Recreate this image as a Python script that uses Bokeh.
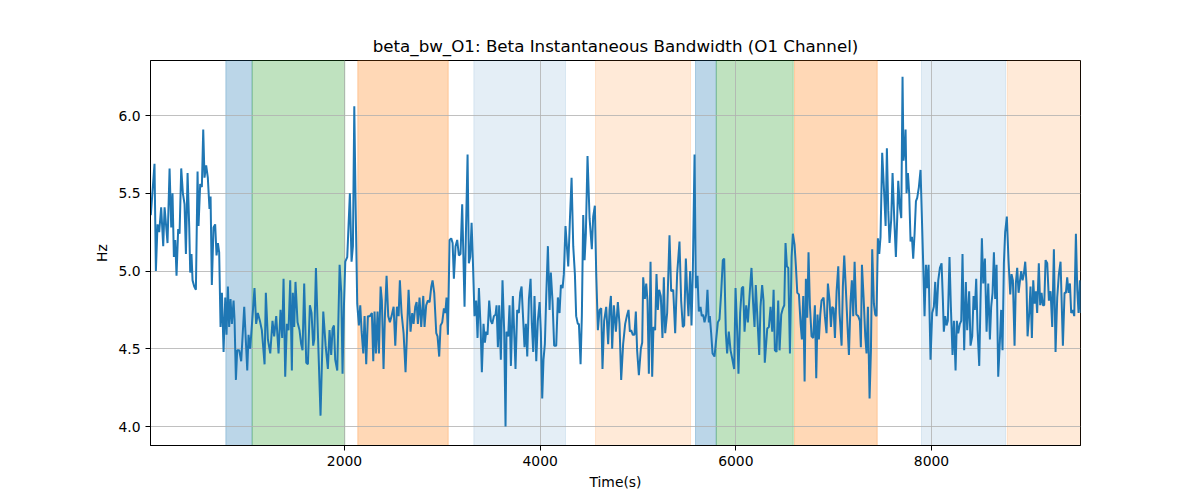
from bokeh.plotting import figure
from bokeh.models import Range1d, BoxAnnotation, FixedTicker, NumeralTickFormatter
from bokeh.embed import file_html
from bokeh.resources import INLINE

# beta bandwidth trace, rows of 10
time_s = [
    20, 58, 72, 89, 106, 126, 147, 161, 178, 191,
    212, 229, 242, 256, 270, 283, 300, 314, 331, 348,
    365, 379, 396, 413, 423, 436, 447, 464, 481, 498,
    508, 525, 542, 556, 569, 586, 603, 620, 631, 644,
    661, 678, 692, 706, 719, 733, 747, 764, 781, 794,
    808, 821, 835, 849, 866, 876, 890, 903, 924, 944,
    975, 1006, 1019, 1036, 1053, 1080, 1097, 1114, 1135, 1155,
    1183, 1196, 1217, 1241, 1264, 1281, 1302, 1326, 1346, 1363,
    1377, 1394, 1411, 1428, 1445, 1462, 1472, 1486, 1499, 1520,
    1540, 1557, 1571, 1588, 1609, 1626,
    1646, 1663, 1680, 1691, 1708, 1728, 1755, 1783, 1807, 1830,
    1847, 1864, 1878, 1892, 1905, 1926, 1950, 1967, 1980, 1994,
    2008, 2028, 2055, 2072, 2086, 2100, 2113, 2130, 2147, 2161,
    2175, 2192, 2205, 2222, 2239, 2260, 2280, 2294, 2307, 2321,
    2338, 2352, 2369, 2382, 2399, 2413, 2430, 2447, 2464, 2481,
    2502, 2519, 2536, 2553, 2566, 2583, 2604, 2624, 2641, 2655,
    2675, 2692, 2706, 2723, 2737, 2750, 2767, 2784, 2805, 2818,
    2835, 2852, 2870, 2887, 2900, 2917, 2938, 2951, 2968, 2982,
    2999, 3016, 3030, 3043, 3057, 3074, 3091, 3105, 3118, 3135,
    3152, 3169, 3186, 3203, 3227, 3241, 3258, 3271, 3285, 3299,
    3312, 3329, 3346, 3360, 3374, 3391, 3404, 3421, 3435, 3448,
    3462, 3479, 3496, 3510, 3527, 3544, 3554, 3568, 3581, 3598,
    3615, 3632, 3646, 3656, 3673, 3687, 3701, 3721, 3748, 3765,
    3782, 3796, 3810, 3823, 3840, 3854, 3868, 3885, 3902, 3915,
    3929, 3942, 3960, 3976, 3994, 4007, 4021, 4034, 4048, 4062,
    4079, 4096, 4109, 4126, 4143, 4164, 4181, 4198, 4212, 4229,
    4242, 4259, 4287, 4304, 4321, 4338, 4355, 4368, 4385, 4396,
    4413, 4426, 4440, 4454, 4467, 4484, 4505, 4528, 4542, 4559,
    4573, 4590, 4607, 4624, 4637, 4654, 4675, 4695, 4709, 4723,
    4736, 4753, 4774, 4794, 4811, 4828, 4848, 4869, 4886, 4903,
    4917, 4930, 4947, 4964, 4978, 4991, 5009, 5029, 5043, 5053,
    5070, 5084, 5097, 5111, 5128, 5145, 5158, 5175, 5189, 5203,
    5216, 5233, 5250, 5264, 5278, 5298, 5322, 5339, 5360, 5380,
    5400, 5424, 5441, 5458, 5472, 5489, 5503, 5516, 5533, 5547,
    5560, 5578, 5591, 5608, 5622, 5639, 5652, 5666, 5680, 5697,
    5710, 5724, 5734, 5748, 5762, 5782, 5799, 5816, 5833, 5850,
    5867, 5881, 5898, 5911, 5928, 5946, 5962, 5983, 5997, 6014,
    6027, 6044, 6061, 6075, 6089, 6106, 6123, 6143, 6160, 6177,
    6191, 6204, 6225, 6239, 6252, 6269, 6283, 6296,
    6321, 6338, 6355, 6372, 6386, 6399, 6416, 6433, 6447, 6464,
    6481, 6495, 6508, 6522, 6536, 6553, 6570, 6583, 6600, 6614,
    6628, 6645, 6662, 6675, 6689, 6703, 6716, 6730, 6743, 6757,
    6774, 6791, 6808, 6822, 6835, 6849, 6863, 6876, 6897, 6910,
    6927, 6941, 6958, 6972, 6985, 6999, 7013, 7030, 7047, 7060,
    7081, 7094, 7108, 7125, 7142, 7156, 7173, 7186, 7200, 7214,
    7231, 7251, 7268, 7278, 7289, 7306, 7323, 7336, 7350, 7367,
    7381, 7394, 7411, 7425, 7438, 7452, 7466, 7479, 7496, 7517,
    7531, 7544, 7558, 7571, 7588, 7602, 7619, 7636, 7650, 7660,
    7677, 7691, 7704, 7714, 7728, 7735, 7745, 7759, 7772, 7786,
    7800, 7813, 7827, 7841, 7854, 7871, 7888,
    7915, 7929, 7943, 7956, 7970, 7990, 8007, 8024, 8038, 8052,
    8069, 8086, 8103, 8116, 8126, 8140, 8154, 8167, 8184, 8198,
    8215, 8229, 8246, 8259, 8273, 8290, 8304, 8317, 8334, 8351,
    8365, 8385, 8399, 8416, 8430, 8443, 8457, 8471, 8488, 8501,
    8515, 8529, 8546, 8563, 8580, 8597, 8610, 8624, 8638, 8651,
    8665, 8682, 8699, 8712, 8726, 8740, 8753, 8770, 8787, 8805,
    8818, 8832, 8849, 8862, 8876, 8890, 8903, 8917, 8931, 8944,
    8958, 8971, 8982, 8999, 9012, 9026, 9040, 9053, 9067, 9080,
    9097, 9111, 9125, 9138, 9152, 9166, 9183, 9200, 9217, 9234,
    9251, 9268, 9285, 9302, 9319, 9343, 9360, 9374, 9387, 9401,
    9415, 9428, 9445, 9459, 9476, 9490, 9503, 9517, 9527,
]
bw_hz = [
    5.36, 5.69, 5.00, 5.30, 5.25, 5.41, 5.16, 5.41, 5.28, 5.18,
    5.66, 5.28, 5.50, 5.09, 5.20, 4.97, 5.27, 5.24, 5.66, 5.50,
    5.43, 5.11, 5.63, 5.28, 4.99, 5.11, 4.94, 4.90, 4.88, 5.64,
    5.29, 5.56, 5.54, 5.91, 5.60, 5.68, 5.60, 5.40, 5.48, 4.91,
    5.28, 5.30, 5.10, 5.18, 5.12, 4.64, 4.86, 4.48, 4.83, 4.59,
    4.90, 4.64, 4.82, 4.66, 4.81, 4.69, 4.30, 4.49, 4.49, 4.42,
    4.77, 4.36, 4.59, 4.50, 4.65, 4.89, 4.66, 4.73, 4.68, 4.62,
    4.40, 4.86, 4.56, 4.47, 4.68, 4.58, 4.71, 4.47, 4.75, 4.57,
    4.95, 4.32, 4.66, 4.62, 4.94, 4.36, 4.86, 4.64, 4.93, 4.67,
    4.62, 4.53, 4.49, 4.92, 4.41, 4.40,
    4.78, 4.73, 4.52, 4.56, 5.02, 4.60, 4.07, 4.74, 4.52, 4.37,
    4.62, 4.46, 4.63, 4.65, 4.43, 4.36, 5.04, 4.86, 4.34, 4.77,
    5.06, 5.09, 5.50, 5.06, 5.16, 6.06, 5.45, 4.79, 4.65, 4.78,
    4.61, 4.47, 4.71, 4.40, 4.71, 4.71, 4.73, 4.42, 4.74, 4.47,
    4.74, 4.47, 4.90, 4.81, 4.37, 4.71, 4.97, 4.71, 4.67, 4.71,
    4.77, 4.52, 4.77, 4.71, 4.94, 4.73, 4.60, 4.35, 4.64, 4.88,
    4.61, 4.73, 4.66, 4.77, 4.80, 4.66, 4.83, 4.64, 4.84, 4.64,
    4.78, 4.81, 4.80, 4.90, 4.94, 4.86, 4.60, 4.58, 4.45, 4.65,
    4.67, 4.76, 4.73, 4.83, 4.59, 5.20, 5.21, 5.18, 4.95, 5.16,
    5.20, 5.10, 5.11, 5.43, 4.77, 5.24, 5.75, 5.05, 5.09, 5.31,
    5.07, 4.71, 4.81, 4.57, 4.89, 4.64, 4.35, 4.66, 4.54, 4.61,
    4.59, 4.81, 4.68, 4.66, 4.71, 4.72, 4.78, 4.51, 4.78, 4.43,
    4.94, 4.62, 4.00, 4.61, 4.58, 4.78, 4.39, 4.84, 4.37, 4.75,
    4.73, 4.86, 4.90, 4.73, 4.51, 4.66, 4.45, 4.82, 4.95, 4.66,
    4.48, 4.84, 4.42, 4.68, 4.80, 4.61, 4.18, 4.43, 4.53, 4.84,
    5.16, 4.75, 4.99, 4.81, 4.52, 4.52, 4.83, 4.73, 4.91, 4.89,
    4.98, 5.29, 5.03, 5.33, 5.60, 5.16, 4.98, 4.71, 4.66, 4.66,
    4.40, 4.71, 5.36, 5.07, 5.24, 5.74, 5.34, 5.14, 5.35, 5.42,
    4.98, 4.62, 4.75, 4.76, 4.37, 4.68, 4.77, 4.53, 4.75, 4.84,
    4.50, 4.78, 4.61, 4.80, 4.66, 4.30, 4.53, 4.66, 4.71, 4.75,
    4.61, 4.62, 4.59, 4.59, 4.74, 4.49, 4.33, 4.50, 4.54, 4.96,
    4.82, 4.92, 4.81, 4.34, 5.06, 4.32, 4.64, 4.62, 4.98, 4.75,
    4.88, 4.84, 4.57, 4.96, 4.60, 4.73, 5.23, 4.87, 4.88, 4.60,
    4.98, 5.19, 4.81, 4.64, 4.65, 5.08, 4.86, 4.71, 5.00, 4.65,
    4.98, 5.75, 4.89, 4.97, 4.74, 4.77, 4.71, 4.72, 4.67, 4.72,
    4.88, 4.67, 4.71, 4.60, 4.47, 4.45, 4.56, 4.67, 4.69, 4.86,
    5.07, 5.08, 4.60, 4.47, 4.61, 4.49, 4.44, 4.37, 4.89, 4.61,
    4.34, 4.73, 4.89, 4.90, 4.61, 4.78, 4.67, 4.87, 5.02, 4.79,
    4.64, 4.91, 4.64, 4.46, 4.77, 4.91, 4.81, 4.41,
    4.63, 4.64, 4.77, 4.61, 4.88, 4.49, 4.48, 4.81, 4.49, 4.72,
    4.76, 4.78, 5.18, 5.03, 5.02, 4.47, 5.09, 5.24, 5.17, 5.03,
    4.86, 4.85, 4.66, 4.56, 4.84, 4.29, 4.95, 4.70, 5.12, 4.78,
    4.58, 4.57, 4.78, 4.31, 4.72, 4.56, 4.72, 4.81, 4.83, 4.71,
    4.60, 4.92, 4.81, 4.64, 4.77, 4.76, 4.57, 4.87, 5.03, 4.73,
    4.52, 4.90, 5.10, 4.88, 4.64, 4.46, 4.81, 4.94, 4.71, 5.06,
    4.72, 4.71, 4.68, 4.51, 5.04, 4.83, 4.58, 4.47, 4.77, 4.18,
    4.49, 5.14, 4.79, 4.72, 4.71, 5.21, 5.11, 5.22, 5.76, 5.49,
    5.29, 5.79, 5.39, 5.18, 5.33, 5.63, 5.34, 5.09, 5.35, 5.58,
    5.41, 5.34, 6.25, 5.71, 5.80, 5.91, 5.50, 5.63, 5.50, 5.19,
    5.22, 5.08, 5.24, 5.45, 5.47, 5.54, 5.65,
    5.05, 4.71, 5.04, 4.89, 5.04, 4.43, 4.73, 4.77, 4.93, 4.71,
    4.94, 5.02, 5.05, 4.82, 4.61, 4.71, 4.65, 4.68, 5.09, 4.77,
    4.46, 4.68, 4.36, 4.68, 4.60, 4.66, 4.68, 5.11, 4.49, 4.93,
    4.62, 4.87, 4.52, 4.58, 4.84, 4.75, 4.95, 4.62, 4.39, 4.81,
    5.21, 4.92, 5.08, 4.61, 4.92, 4.56, 4.77, 4.86, 5.12, 4.82,
    5.04, 4.32, 4.55, 4.75, 4.49, 5.05, 5.25, 5.35, 5.07, 4.85,
    4.98, 4.94, 4.52, 4.92, 5.02, 4.86, 4.93, 5.00, 4.94, 4.98,
    5.06, 4.92, 4.58, 4.73, 4.90, 4.57, 4.94, 4.79, 4.87, 4.73,
    5.05, 4.78, 4.86, 4.78, 4.78, 5.07, 5.05, 4.81, 4.87, 4.64,
    5.14, 4.48, 4.83, 4.98, 5.06, 4.52, 4.86, 4.86, 4.96, 4.86,
    4.92, 4.73, 4.75, 4.71, 5.24, 4.88, 4.73, 4.94, 4.73,
]

# shaded stage intervals
span_start = [787, 1056, 2136, 3322, 4566, 5588, 5800, 6600, 7898, 8774]
span_end = [1056, 2003, 3060, 4259, 5537, 5800, 6587, 7445, 8757, 9600]
span_color = ["#1f77b4", "#2ca02c", "#ff7f0e", "#1f77b4", "#ff7f0e",
              "#1f77b4", "#2ca02c", "#ff7f0e", "#1f77b4", "#ff7f0e"]
span_alpha = [0.3, 0.3, 0.3, 0.12, 0.16, 0.3, 0.3, 0.3, 0.12, 0.16]

x_ticks = [2000, 4000, 6000, 8000]
y_ticks = [4.0, 4.5, 5.0, 5.5, 6.0]

p = figure(width=1200, height=500, output_backend="svg", toolbar_location=None,
           title="beta_bw_O1: Beta Instantaneous Bandwidth (O1 Channel)",
           x_range=Range1d(17, 9523), y_range=Range1d(3.878, 6.354),
           min_border_left=150, min_border_right=120, min_border_top=60, min_border_bottom=55)

for s, e, c, a in zip(span_start, span_end, span_color, span_alpha):
    p.add_layout(BoxAnnotation(left=s, right=e, fill_color=c, fill_alpha=a,
                               line_color=c, line_alpha=a, line_width=1, level="image"))

p.line(time_s, bw_hz, line_color="#1f77b4", line_width=2)

p.title.align = "center"
p.title.text_font = "DejaVu Sans"
p.title.text_font_size = "16.7px"
p.title.text_font_style = "normal"
p.title.text_color = "black"

p.xaxis.axis_label = "Time(s)"
p.yaxis.axis_label = "Hz"
p.xaxis.ticker = FixedTicker(ticks=x_ticks)
p.yaxis.ticker = FixedTicker(ticks=y_ticks)
p.yaxis.formatter = NumeralTickFormatter(format="0.0")
for ax in [p.xaxis, p.yaxis]:
    ax.axis_label_text_font = "DejaVu Sans"
    ax.axis_label_text_font_size = "13.9px"
    ax.axis_label_text_font_style = "normal"
    ax.axis_label_text_color = "black"
    ax.major_label_text_font = "DejaVu Sans"
    ax.major_label_text_font_size = "13.9px"
    ax.major_label_text_color = "black"
    ax.axis_line_color = "black"
    ax.major_tick_line_color = "black"
    ax.major_tick_out = 5
    ax.major_tick_in = 0
    ax.minor_tick_line_color = None

p.grid.grid_line_color = "#b0b0b0"
p.grid.grid_line_width = 0.8
p.grid.level = "underlay"
p.outline_line_color = "black"
p.outline_line_alpha = 1
p.background_fill_color = "white"
p.border_fill_color = "white"

open("out.html", "w").write(file_html(p, INLINE))
